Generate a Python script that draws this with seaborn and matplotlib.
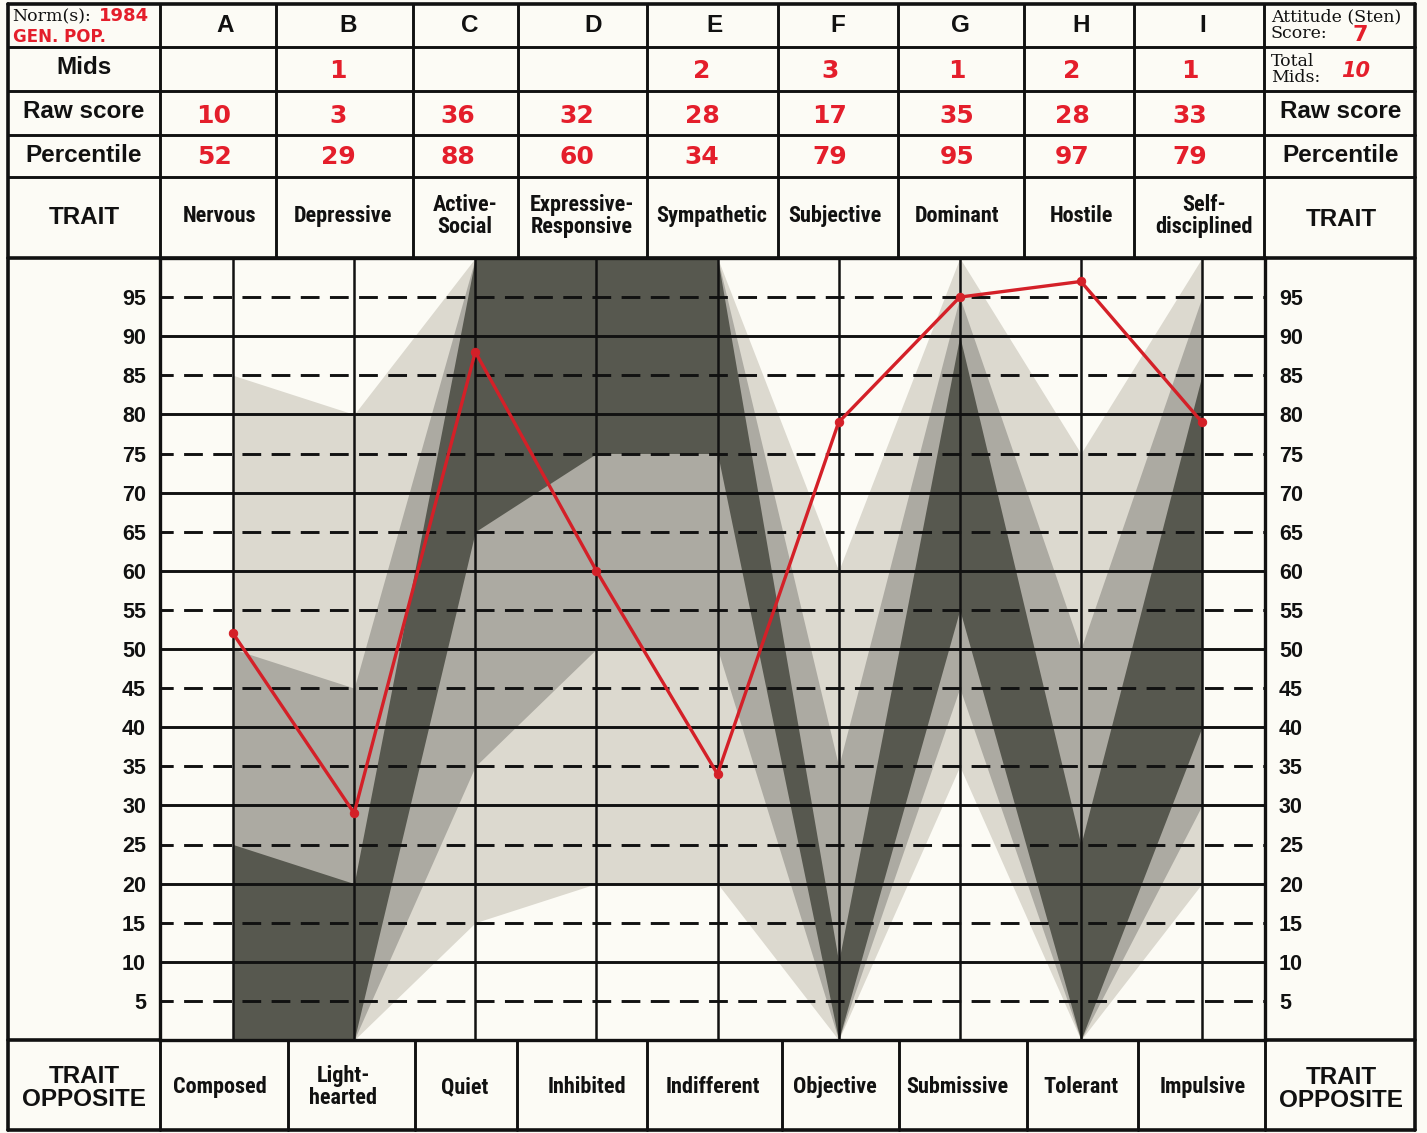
import matplotlib
matplotlib.use("Agg")
import matplotlib.pyplot as plt
from matplotlib import font_manager
from matplotlib.font_manager import FontProperties
import seaborn as sns
import pandas as pd
import numpy as np

# ---------------- data ----------------
traits = ["A", "B", "C", "D", "E", "F", "G", "H", "I"]
trait_names = ["Nervous", "Depressive", "Active-\nSocial", "Expressive-\nResponsive",
               "Sympathetic", "Subjective", "Dominant", "Hostile", "Self-\ndisciplined"]
trait_opposites = ["Composed", "Light-\nhearted", "Quiet", "Inhibited", "Indifferent",
                   "Objective", "Submissive", "Tolerant", "Impulsive"]
mids = ["", "1", "", "", "2", "3", "1", "2", "1"]
raw_scores = ["10", "3", "36", "32", "28", "17", "35", "28", "33"]
percentiles = [52, 29, 88, 60, 34, 79, 95, 97, 79]

# shaded zones (percentile limits at each trait)
light_lo = [0, 0, 15, 20, 20, 0, 35, 0, 20]
light_hi = [85, 80, 100, 100, 100, 60, 100, 75, 100]
mid_lo = [0, 0, 35, 50, 50, 0, 45, 0, 30]
mid_hi = [50, 45, 100, 100, 100, 35, 95, 50, 95]
dark_lo = [0, 0, 65, 75, 75, 0, 55, 0, 40]
dark_hi = [25, 20, 100, 100, 100, 10, 90, 25, 85]

y_ticks = list(range(5, 100, 5))
norm_year = "1984"
norm_group = "GEN. POP."
attitude_score = "7"
total_mids = "10"

# ---------------- style ----------------
sns.set_style("white")
plt.rcParams["lines.scale_dashes"] = False
ttf = font_manager.fontManager.ttflist
names = {f.name for f in ttf}
SANS = "Liberation Sans" if "Liberation Sans" in names else "DejaVu Sans"
SERIF = "DejaVu Serif"
plt.rcParams["font.family"] = [SANS, "DejaVu Sans"]


def _weight(w):
    if isinstance(w, (int, float)):
        return w
    return {"bold": 700, "heavy": 800, "black": 900, "semibold": 600,
            "demibold": 600, "extra bold": 800}.get(str(w).lower(), 400)


narrow_file = None
for pref in ["Liberation Sans Narrow", "Roboto Condensed", "Open Sans Condensed",
             "Noto Sans", "DejaVu Sans", "Open Sans", "Roboto", "Inter"]:
    for f in ttf:
        cond = ("Narrow" in f.name or "Condensed" in f.name or "Cond" in f.fname
                or str(f.stretch) in ("condensed", "semi-condensed", "extra-condensed"))
        if f.name.startswith(pref) and cond and _weight(f.weight) >= 600 and f.style == "normal":
            narrow_file = f.fname
            break
    if narrow_file:
        break
if narrow_file:
    NFP = FontProperties(fname=narrow_file, size=16)
else:
    NFP = FontProperties(family=["DejaVu Sans"], weight="bold", size=13.5)

BG = "#fcfbf5"
C1, C2, C3 = "#dcd9cf", "#acaaa2", "#57584f"
RED_LINE = "#d42028"
RED_TXT = "#e41e2b"
INK = "#111111"

W, H = 1427, 1133
fig = plt.figure(figsize=(W / 100, H / 100), dpi=100)
fig.patch.set_facecolor(BG)

# overlay axes in pixel coordinates for the form layout
ax0 = fig.add_axes([0, 0, 1, 1])
ax0.set_xlim(0, W)
ax0.set_ylim(H, 0)
ax0.axis("off")
ax0.set_zorder(0)

# ---- form grid lines ----
L_OUT, R_OUT, TOP, BOT = 8, 1415, 4, 1130
PL, PR, PT, PB = 160, 1265, 258, 1040
lw_out, lw_in = 2.6, 2.1
for y in [47, 91, 135, 177]:
    ax0.plot([L_OUT, R_OUT], [y, y], color=INK, lw=lw_in)
for y in [TOP, BOT, PT, PB]:
    ax0.plot([L_OUT, R_OUT], [y, y], color=INK, lw=lw_out)
for x in [L_OUT, R_OUT]:
    ax0.plot([x, x], [TOP, BOT], color=INK, lw=lw_out)
head_cols = [160, 276, 413, 518, 647, 778, 898, 1024, 1134, 1264]
for x in head_cols:
    ax0.plot([x, x], [TOP, PT], color=INK, lw=lw_in)
foot_cols = [160, 288, 415, 517, 647, 782, 899, 1027, 1138, 1265]
for x in foot_cols:
    ax0.plot([x, x], [PB, BOT], color=INK, lw=lw_in)

# ---- header texts ----
bold = dict(fontweight="bold", ha="center", va="center", color=INK)
letter_x = [225, 348, 470, 593, 715, 838, 960, 1081, 1203]
value_x = [214, 338, 458, 577, 702, 830, 957, 1072, 1190]
name_x = [220, 343, 465, 582, 712, 835, 957, 1081, 1204]
opp_x = [220, 343, 465, 587, 713, 835, 957, 1081, 1203]

for lx, t in zip(letter_x, traits):
    ax0.text(lx, 25, t, fontsize=17.5, **bold)
for lab, y in [("Mids", 68), ("Raw score", 112), ("Percentile", 155)]:
    ax0.text(84, y, lab, fontsize=17.5, **bold)
ax0.text(84, 218, "TRAIT", fontsize=17.5, **bold)
for lab, y in [("Raw score", 112), ("Percentile", 156)]:
    ax0.text(1341, y, lab, fontsize=17.5, **bold)
ax0.text(1341, 220, "TRAIT", fontsize=17.5, **bold)

red = dict(fontweight="bold", ha="center", va="center", color=RED_TXT,
           family="DejaVu Sans", fontsize=18)
for vx, m in zip(value_x, mids):
    if m:
        ax0.text(vx, 71, m, **red)
for vx, r in zip(value_x, raw_scores):
    ax0.text(vx, 116, r, **red)
for vx, p in zip(value_x, percentiles):
    ax0.text(vx, 157, str(p), **red)

narrow = dict(fontproperties=NFP, ha="center", va="center", color=INK, linespacing=1.0)
for nx, n in zip(name_x, trait_names):
    ax0.text(nx, 216, n, **narrow)
for ox, o in zip(opp_x, trait_opposites):
    ax0.text(ox, 1087, o, **narrow)
ax0.text(84, 1088, "TRAIT\nOPPOSITE", fontsize=17.5, linespacing=0.95, **bold)
ax0.text(1341, 1089, "TRAIT\nOPPOSITE", fontsize=17.5, linespacing=0.95, **bold)

serif = dict(family=SERIF, fontsize=12.5, ha="left", va="center", color=INK)
ax0.text(12, 17, "Norm(s):", **serif)
ax0.text(99, 16, norm_year, ha="left", va="center", color=RED_TXT, fontweight="bold",
         family="DejaVu Sans", fontsize=13)
ax0.text(13, 37, norm_group, ha="left", va="center", color=RED_TXT, fontweight="bold",
         family="DejaVu Sans", fontsize=12)
ax0.text(1271, 17, "Attitude (Sten)", **serif)
ax0.text(1271, 33, "Score:", **serif)
ax0.text(1360, 35, attitude_score, ha="center", va="center", color=RED_TXT,
         fontweight="bold", family="DejaVu Sans", fontsize=16)
ax0.text(1271, 62, "Total", **serif)
ax0.text(1271, 78, "Mids:", **serif)
ax0.text(1356, 71, total_mids, ha="center", va="center", color=RED_TXT,
         fontweight="bold", fontstyle="italic", family="DejaVu Sans", fontsize=15)

# ---------------- profile plot ----------------
ax = fig.add_axes([PL / W, 1 - PB / H, (PR - PL) / W, (PB - PT) / H])
ax.set_zorder(1)
ax.set_facecolor(BG)
xi = np.arange(len(traits))

for lo, hi, c in [(light_lo, light_hi, C1), (mid_lo, mid_hi, C2), (dark_lo, dark_hi, C3)]:
    ax.fill_between(xi, lo, hi, color=c, lw=0, zorder=1)

for v in range(10, 100, 10):
    ax.axhline(v, color=INK, lw=2.1, zorder=3)
for v in range(5, 100, 10):
    ax.axhline(v, color=INK, lw=2.1, ls=(4, (13.5, 7.5)), zorder=3)
for x in xi:
    ax.axvline(x, color=INK, lw=1.8, zorder=3)

df = pd.DataFrame({"trait": xi, "percentile": percentiles})
sns.lineplot(data=df, x="trait", y="percentile", ax=ax, color=RED_LINE, lw=2.4,
             marker="o", markersize=6, markeredgecolor=RED_LINE, zorder=6,
             legend=False)

ax.set_xlim(-0.603, 8.52)
ax.set_ylim(0, 100)
ax.set_xticks([])
ax.set_yticks(y_ticks)
ax.set_yticklabels([str(v) for v in y_ticks])
ax.set_xlabel("")
ax.set_ylabel("")
ax.tick_params(axis="y", length=0, labelleft=True, labelright=True, pad=10,
               labelsize=15.5, labelcolor=INK)
for t in ax.yaxis.get_major_ticks():
    t.label1.set_fontweight("bold")
    t.label2.set_fontweight("bold")
for s in ax.spines.values():
    s.set_linewidth(2.4)
    s.set_color(INK)
    s.set_visible(True)

fig.savefig("out.png", dpi=100, facecolor=BG)
